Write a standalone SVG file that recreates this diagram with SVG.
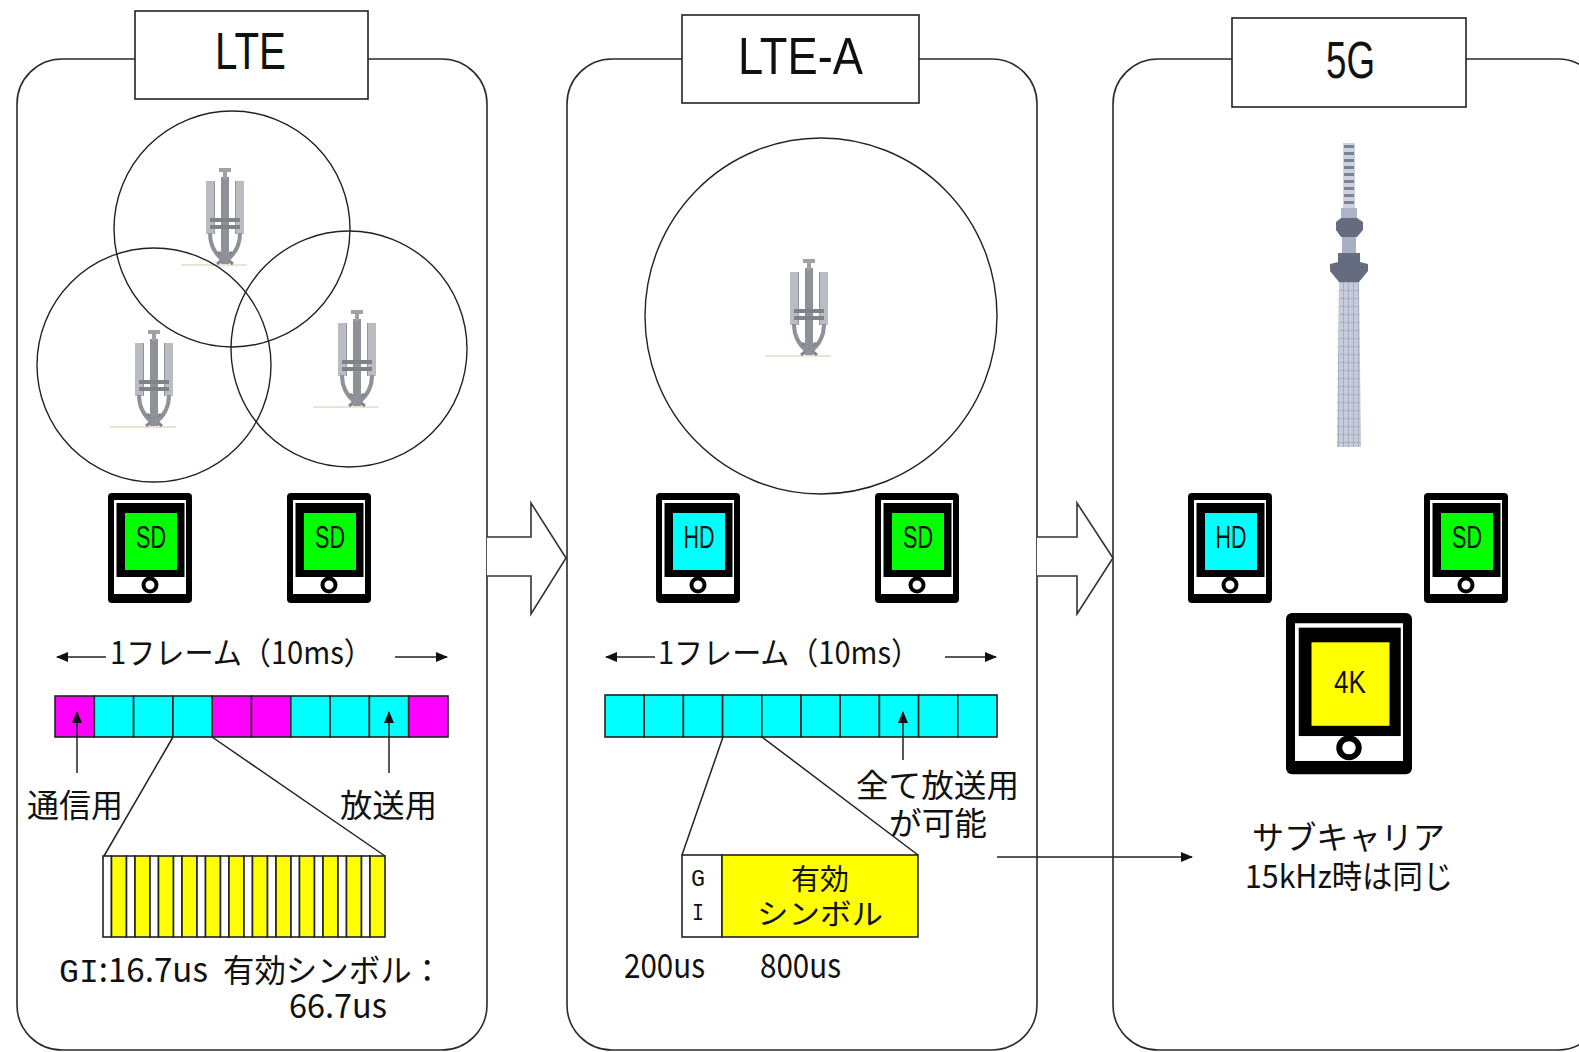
<svg xmlns="http://www.w3.org/2000/svg" xmlns:xlink="http://www.w3.org/1999/xlink" width="1579" height="1052" viewBox="0 0 1579 1052">
  <style>
    .panel { fill: none; stroke: #2a2a2a; stroke-width: 1.6; }
    .title-box { fill: #ffffff; stroke: #222; stroke-width: 1.6; }
    .title { font-family: "Liberation Sans", "Noto Sans", sans-serif; font-size: 52px; fill: #111; }
    .cell { stroke: #222; stroke-width: 1.6; }
    .cyan { fill: #00ffff; }
    .mag { fill: #ff00ff; }
    .yel { fill: #ffff00; }
    .wht { fill: #ffffff; }
    .cover { fill: none; stroke: #222; stroke-width: 1.4; }
    .jp { font-family: "Noto Sans CJK JP", "Noto Sans", sans-serif; fill: #111; }
    .scr { font-family: "Liberation Sans", "DejaVu Sans", sans-serif; font-size: 32px; fill: #111; }
    .mono { font-family: "Liberation Mono", "DejaVu Sans Mono", monospace; fill: #111; }
    .line { fill: none; stroke: #222; stroke-width: 1.5; }
    .bigarrow { fill: #ffffff; stroke: #333; stroke-width: 1.6; stroke-linejoin: miter; }
  </style>
  <defs>
    <marker id="ah" markerUnits="userSpaceOnUse" markerWidth="12" markerHeight="10" refX="11" refY="5" orient="auto">
      <path d="M0,0 L12,5 L0,10 Z" fill="#111"/>
    </marker>
    <!-- base-station antenna, 40 x 100 local box -->
    <g id="antenna">
      <line x1="-24" y1="97" x2="42" y2="97" stroke="#eee2d2" stroke-width="2"/>
      <rect x="1" y="13" width="9" height="53" fill="#b9bdc2"/>
      <rect x="30" y="13" width="9" height="53" fill="#b9bdc2"/>
      <line x1="9.5" y1="13" x2="9.5" y2="66" stroke="#92969c" stroke-width="1"/>
      <line x1="30.5" y1="13" x2="30.5" y2="66" stroke="#92969c" stroke-width="1"/>
      <path d="M5,65 Q5,82 18,92 M35,65 Q35,82 22,92" fill="none" stroke="#8e9298" stroke-width="4"/>
      <path d="M12,96 L27,84 M28,96 L13,84" fill="none" stroke="#83878d" stroke-width="3"/>
      <rect x="16" y="9" width="8" height="87" fill="#8e9298"/>
      <rect x="14" y="0" width="12" height="4" fill="#9ea2a7"/>
      <rect x="18" y="3" width="4" height="8" fill="#9ea2a7"/>
      <rect x="5" y="50" width="30" height="4" fill="#7f8389"/>
      <rect x="5" y="57" width="30" height="4" fill="#7f8389"/>
    </g>
    <!-- handset, 84 x 110 local box; screen colour comes from currentColor -->
    <g id="phone">
      <rect x="0" y="0" width="84" height="110" rx="4" fill="#000"/>
      <rect x="6" y="7" width="72" height="94" fill="#fff"/>
      <rect x="8.5" y="10" width="68" height="74" fill="#000"/>
      <rect x="17" y="20" width="52" height="57" fill="currentColor"/>
      <circle cx="42" cy="92" r="6.5" fill="#fff" stroke="#000" stroke-width="4"/>
    </g>
    <pattern id="grid" patternUnits="userSpaceOnUse" x="1338" y="282" width="5" height="8">
      <rect width="5" height="8" fill="#c6ccda"/>
      <path d="M0,0 H5 M0,0 V8" stroke="#939bb0" stroke-width="1.2"/>
    </pattern>
  </defs>

  <!-- panel outlines -->
  <g id="panels">
    <rect class="panel" x="17" y="59" width="470" height="991" rx="45"/>
    <rect class="panel" x="567" y="59" width="470" height="991" rx="45"/>
    <rect class="panel" x="1113" y="59" width="490" height="991" rx="45"/>
  </g>

  <!-- titles -->
  <g id="title-lte">
    <rect class="title-box" x="135" y="11" width="233" height="88"/>
    <text class="title" x="215" y="69" textLength="71" lengthAdjust="spacingAndGlyphs">LTE</text>
  </g>
  <g id="title-ltea">
    <rect class="title-box" x="682" y="15" width="237" height="88"/>
    <text class="title" x="738" y="74" textLength="125" lengthAdjust="spacingAndGlyphs">LTE-A</text>
  </g>
  <g id="title-5g">
    <rect class="title-box" x="1232" y="18" width="234" height="89"/>
    <text class="title" x="1326" y="78" textLength="49" lengthAdjust="spacingAndGlyphs">5G</text>
  </g>

  <!-- base stations and coverage -->
  <g id="cells-lte">
    <use xlink:href="#antenna" x="205" y="168"/>
    <use xlink:href="#antenna" x="134" y="330"/>
    <use xlink:href="#antenna" x="337" y="310"/>
    <circle class="cover" cx="232" cy="229" r="118"/>
    <circle class="cover" cx="154" cy="365" r="117"/>
    <circle class="cover" cx="349" cy="349" r="118"/>
  </g>
  <g id="cell-ltea">
    <use xlink:href="#antenna" x="789" y="259"/>
    <ellipse class="cover" cx="821" cy="316" rx="176" ry="178"/>
  </g>

  <!-- broadcast tower -->
  <g id="tower-5g">
    <rect x="1343" y="143" width="12" height="66" fill="#ccd1dd"/>
    <line x1="1349" y1="145" x2="1349" y2="208" stroke="#7a8298" stroke-width="10" stroke-dasharray="3 4"/>
    <rect x="1341" y="208" width="16" height="11" fill="#adb4c6"/>
    <path d="M1336,222 L1341,218 H1357 L1363,222 V230 L1357,237 H1341 L1336,230 Z" fill="#666c80"/>
    <rect x="1342" y="237" width="14" height="17" fill="#a8afc2"/>
    <path d="M1338,253 H1360 V262 L1368,264 V271 L1359,282 H1339 L1330,271 V264 L1338,262 Z" fill="#666c80"/>
    <path d="M1339,282 H1359 L1361,447 H1337 Z" fill="url(#grid)"/>
  </g>

  <!-- handsets -->
  <g id="phone-lte-1">
    <use xlink:href="#phone" x="108" y="493" color="#00ff00"/>
    <text class="scr" x="151" y="548" text-anchor="middle" textLength="30" lengthAdjust="spacingAndGlyphs">SD</text>
  </g>
  <g id="phone-lte-2">
    <use xlink:href="#phone" x="287" y="493" color="#00ff00"/>
    <text class="scr" x="330" y="548" text-anchor="middle" textLength="30" lengthAdjust="spacingAndGlyphs">SD</text>
  </g>
  <g id="phone-ltea-hd">
    <use xlink:href="#phone" x="656" y="493" color="#00ffff"/>
    <text class="scr" x="699" y="548" text-anchor="middle" textLength="31" lengthAdjust="spacingAndGlyphs">HD</text>
  </g>
  <g id="phone-ltea-sd">
    <use xlink:href="#phone" x="875" y="493" color="#00ff00"/>
    <text class="scr" x="918" y="548" text-anchor="middle" textLength="30" lengthAdjust="spacingAndGlyphs">SD</text>
  </g>
  <g id="phone-5g-hd">
    <use xlink:href="#phone" x="1188" y="493" color="#00ffff"/>
    <text class="scr" x="1231" y="548" text-anchor="middle" textLength="31" lengthAdjust="spacingAndGlyphs">HD</text>
  </g>
  <g id="phone-5g-sd">
    <use xlink:href="#phone" x="1424" y="493" color="#00ff00"/>
    <text class="scr" x="1467" y="548" text-anchor="middle" textLength="30" lengthAdjust="spacingAndGlyphs">SD</text>
  </g>
  <g id="phone-5g-4k">
    <use xlink:href="#phone" transform="translate(1286,613) scale(1.5,1.465)" color="#ffff00"/>
    <text class="scr" x="1350" y="693" text-anchor="middle" textLength="32" lengthAdjust="spacingAndGlyphs">4K</text>
  </g>

  <!-- frame labels -->
  <g id="frame-label-lte">
    <text class="jp" x="110" y="664" font-size="31" textLength="263" lengthAdjust="spacingAndGlyphs">1フレーム（10ms）</text>
  </g>
  <g id="frame-label-ltea">
    <text class="jp" x="658" y="664" font-size="31" textLength="262" lengthAdjust="spacingAndGlyphs">1フレーム（10ms）</text>
  </g>

  <!-- LTE frame: mixed unicast / broadcast subframes -->
  <g id="frame-lte">
    <rect class="cell mag" x="55" y="696" width="39.3" height="41"/>
    <rect class="cell cyan" x="94.3" y="696" width="39.3" height="41"/>
    <rect class="cell cyan" x="133.6" y="696" width="39.3" height="41"/>
    <rect class="cell cyan" x="172.9" y="696" width="39.3" height="41"/>
    <rect class="cell mag" x="212.2" y="696" width="39.3" height="41"/>
    <rect class="cell mag" x="251.5" y="696" width="39.3" height="41"/>
    <rect class="cell cyan" x="290.8" y="696" width="39.3" height="41"/>
    <rect class="cell cyan" x="330.1" y="696" width="39.3" height="41"/>
    <rect class="cell cyan" x="369.4" y="696" width="39.3" height="41"/>
    <rect class="cell mag" x="408.7" y="696" width="39.3" height="41"/>
  </g>

  <!-- LTE-A frame: all subframes broadcast-capable -->
  <g id="frame-ltea">
    <rect class="cell cyan" x="605" y="695" width="39.2" height="42"/>
    <rect class="cell cyan" x="644.2" y="695" width="39.2" height="42"/>
    <rect class="cell cyan" x="683.4" y="695" width="39.2" height="42"/>
    <rect class="cell cyan" x="722.6" y="695" width="39.2" height="42"/>
    <rect class="cell cyan" x="761.8" y="695" width="39.2" height="42"/>
    <rect class="cell cyan" x="801" y="695" width="39.2" height="42"/>
    <rect class="cell cyan" x="840.2" y="695" width="39.2" height="42"/>
    <rect class="cell cyan" x="879.4" y="695" width="39.2" height="42"/>
    <rect class="cell cyan" x="918.6" y="695" width="39.2" height="42"/>
    <rect class="cell cyan" x="957.8" y="695" width="39.2" height="42"/>
  </g>

  <!-- LTE symbol detail: 12 x (GI + useful symbol) -->
  <g id="symbols-lte">
    <rect class="cell wht" x="103" y="856" width="8.5" height="81"/>
    <rect class="cell yel" x="111.5" y="856" width="15" height="81"/>
    <rect class="cell wht" x="126.5" y="856" width="8.5" height="81"/>
    <rect class="cell yel" x="135" y="856" width="15" height="81"/>
    <rect class="cell wht" x="150" y="856" width="8.5" height="81"/>
    <rect class="cell yel" x="158.5" y="856" width="15" height="81"/>
    <rect class="cell wht" x="173.5" y="856" width="8.5" height="81"/>
    <rect class="cell yel" x="182" y="856" width="15" height="81"/>
    <rect class="cell wht" x="197" y="856" width="8.5" height="81"/>
    <rect class="cell yel" x="205.5" y="856" width="15" height="81"/>
    <rect class="cell wht" x="220.5" y="856" width="8.5" height="81"/>
    <rect class="cell yel" x="229" y="856" width="15" height="81"/>
    <rect class="cell wht" x="244" y="856" width="8.5" height="81"/>
    <rect class="cell yel" x="252.5" y="856" width="15" height="81"/>
    <rect class="cell wht" x="267.5" y="856" width="8.5" height="81"/>
    <rect class="cell yel" x="276" y="856" width="15" height="81"/>
    <rect class="cell wht" x="291" y="856" width="8.5" height="81"/>
    <rect class="cell yel" x="299.5" y="856" width="15" height="81"/>
    <rect class="cell wht" x="314.5" y="856" width="8.5" height="81"/>
    <rect class="cell yel" x="323" y="856" width="15" height="81"/>
    <rect class="cell wht" x="338" y="856" width="8.5" height="81"/>
    <rect class="cell yel" x="346.5" y="856" width="15" height="81"/>
    <rect class="cell wht" x="361.5" y="856" width="8.5" height="81"/>
    <rect class="cell yel" x="370" y="856" width="15" height="81"/>
  </g>

  <!-- LTE-A symbol detail -->
  <g id="symbol-ltea">
    <rect class="cell wht" x="682" y="855" width="40" height="82"/>
    <rect class="cell yel" x="722" y="855" width="196" height="82"/>
    <text class="mono" x="698" y="886" font-size="24" text-anchor="middle" textLength="14" lengthAdjust="spacingAndGlyphs">G</text>
    <text class="mono" x="698" y="920" font-size="24" text-anchor="middle" textLength="12" lengthAdjust="spacingAndGlyphs">I</text>
    <text class="jp" x="820" y="890" font-size="29" text-anchor="middle">有効</text>
    <text class="jp" x="820" y="925" font-size="29" text-anchor="middle" textLength="126" lengthAdjust="spacingAndGlyphs">シンボル</text>
  </g>

  <!-- annotations -->
  <g id="labels">
    <text class="jp" x="27" y="817" font-size="32" textLength="96" lengthAdjust="spacingAndGlyphs">通信用</text>
    <text class="jp" x="340" y="817" font-size="32" textLength="97" lengthAdjust="spacingAndGlyphs">放送用</text>
    <text class="jp" x="59" y="982" font-size="34" textLength="149" lengthAdjust="spacingAndGlyphs"><tspan class="mono">GI</tspan>:16.7us</text>
    <text class="jp" x="223" y="982" font-size="32" textLength="220" lengthAdjust="spacingAndGlyphs">有効シンボル：</text>
    <text class="jp" x="289" y="1018" font-size="34" textLength="98" lengthAdjust="spacingAndGlyphs">66.7us</text>
    <text class="jp" x="856" y="797" font-size="32" textLength="163" lengthAdjust="spacingAndGlyphs">全て放送用</text>
    <text class="jp" x="889" y="835" font-size="32" textLength="98" lengthAdjust="spacingAndGlyphs">が可能</text>
    <text class="jp" x="624" y="978" font-size="34" textLength="81" lengthAdjust="spacingAndGlyphs">200us</text>
    <text class="jp" x="760" y="978" font-size="34" textLength="81" lengthAdjust="spacingAndGlyphs">800us</text>
    <text class="jp" x="1252" y="849" font-size="32" textLength="193" lengthAdjust="spacingAndGlyphs">サブキャリア</text>
    <text class="jp" x="1245" y="888" font-size="32" textLength="208" lengthAdjust="spacingAndGlyphs">15kHz時は同じ</text>
  </g>

  <!-- connectors -->
  <g id="connectors">
    <path class="bigarrow" d="M487,537 H531 V503 L566,558 L531,614 V576 H487"/>
    <path class="bigarrow" d="M1037,537 H1077 V503 L1113,558 L1077,614 V576 H1037"/>
    <line class="line" x1="106" y1="657" x2="57" y2="657" marker-end="url(#ah)"/>
    <line class="line" x1="395" y1="657" x2="447" y2="657" marker-end="url(#ah)"/>
    <line class="line" x1="655" y1="657" x2="606" y2="657" marker-end="url(#ah)"/>
    <line class="line" x1="945" y1="657" x2="996" y2="657" marker-end="url(#ah)"/>
    <line class="line" x1="77" y1="773" x2="77" y2="712" marker-end="url(#ah)"/>
    <line class="line" x1="389" y1="773" x2="389" y2="712" marker-end="url(#ah)"/>
    <line class="line" x1="903" y1="760" x2="903" y2="712" marker-end="url(#ah)"/>
    <line class="line" x1="173" y1="737" x2="104" y2="856"/>
    <line class="line" x1="212" y1="737" x2="385" y2="856"/>
    <line class="line" x1="723" y1="737" x2="682" y2="855"/>
    <line class="line" x1="762" y1="737" x2="918" y2="855"/>
    <line class="line" x1="997" y1="857" x2="1192" y2="857" marker-end="url(#ah)"/>
  </g>
</svg>
